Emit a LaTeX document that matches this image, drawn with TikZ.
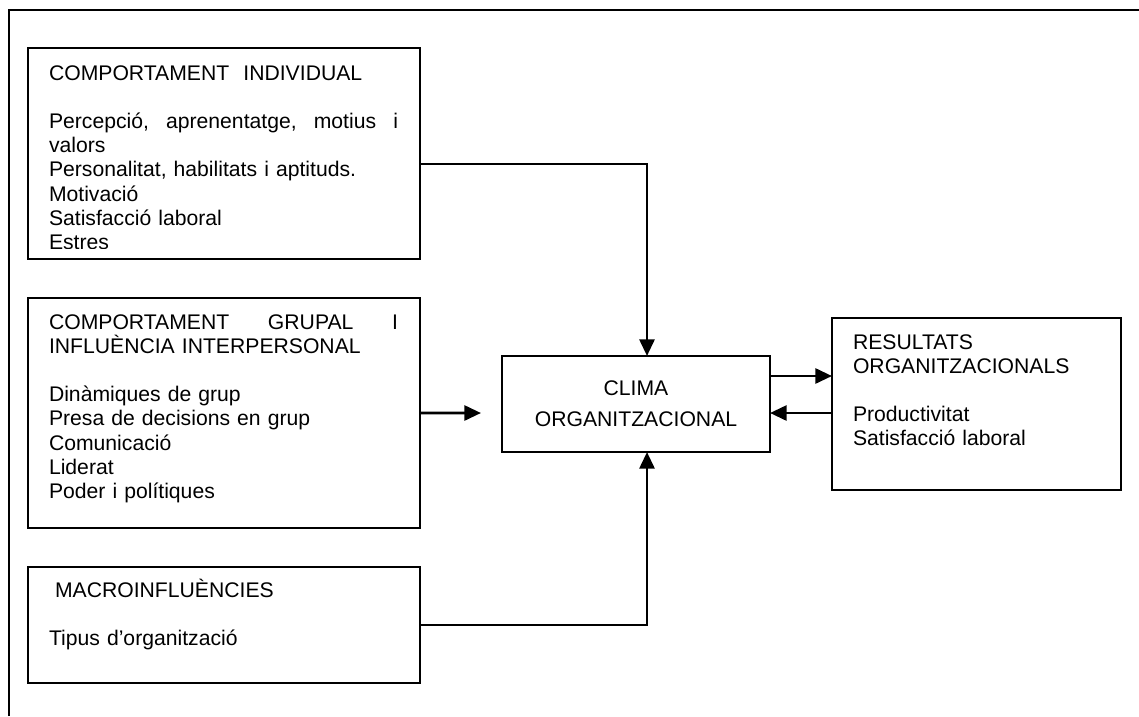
\documentclass[tikz,border=0pt]{standalone}
\usepackage{fontspec}
\setmainfont{Liberation Sans}
\usetikzlibrary{arrows.meta}
\newlength{\colw}
\setlength{\colw}{209.4pt}
\begin{document}
\begin{tikzpicture}[x=0.6pt,y=-0.6pt,
  box/.style={draw, line width=1.7pt, inner sep=0pt, outer sep=0pt, anchor=north west},
  txt/.style={inner sep=0pt, outer sep=0pt, anchor=base west, align=left,
              font=\fontsize{12.7pt}{14.52pt}\selectfont},
  link/.style={line width=1.7pt, -{Triangle[length=10pt,width=9pt]}}]
\useasboundingbox (0,0) rectangle (1139,716);

% outer frame (top and left sides)
\draw[line width=1.7pt] (9,716) -- (9,10) -- (1139,10);

% boxes
\node[box, minimum width=235.2pt, minimum height=126.6pt] (ind) at (28,48) {};
\node[box, minimum width=235.2pt, minimum height=138pt] (grp) at (28,298) {};
\node[box, minimum width=235.2pt, minimum height=69.6pt] (mac) at (28,567) {};
\node[box, minimum width=160.8pt, minimum height=57.6pt] (clima) at (502,356) {};
\node[box, minimum width=173.4pt, minimum height=103.2pt] (res) at (832,318) {};

% box texts (justified first lines are spread with \hfill)
\begin{scope}
  \clip (28,48) rectangle (420,248.5);
  \node[txt, text width=\colw] (indtxt) at (49,80) {%
    COMPORTAMENT\ \ INDIVIDUAL\\[\baselineskip]
    \makebox[\colw][l]{Percepció,\hfill aprenentatge,\hfill motius\hfill i}\\
    valors\\
    Personalitat, habilitats i aptituds.\\
    Motivació\\
    Satisfacció laboral\\
    Estres};
\end{scope}

\node[txt, text width=\colw] (grptxt) at (49,329) {%
  \makebox[\colw][l]{COMPORTAMENT\hfill GRUPAL\hfill I}\\
  INFLUÈNCIA INTERPERSONAL\\[\baselineskip]
  Dinàmiques de grup\\
  Presa de decisions en grup\\
  Comunicació\\
  Liderat\\
  Poder i polítiques};

\node[txt, text width=\colw] (mactxt) at (49,597) {%
  \hspace*{3.6pt}MACROINFLUÈNCIES\\[\baselineskip]
  Tipus d’organització};

\node[txt, text width=160pt] (restxt) at (853,349) {%
  RESULTATS\\
  ORGANITZACIONALS\\[\baselineskip]
  Productivitat\\
  Satisfacció laboral};

\node[txt, anchor=base, align=center, text width=160pt] (climatxt) at (636,395) {%
  CLIMA\\[4.5pt]
  ORGANITZACIONAL};

% connectors
\coordinate (k1) at (647,164);
\coordinate (t2) at (481,413);
\coordinate (r1) at (0,376);
\coordinate (r2) at (0,413);

\draw[link] (ind.east |- k1) -- (k1) -- (clima.north -| k1);
\draw[link] (grp.east) -- (t2);
\draw[link] (mac.east) -| (clima.south -| k1);
\draw[link] (clima.east |- r1) -- (res.west |- r1);
\draw[link] (res.west |- r2) -- (clima.east |- r2);
\end{tikzpicture}
\end{document}
